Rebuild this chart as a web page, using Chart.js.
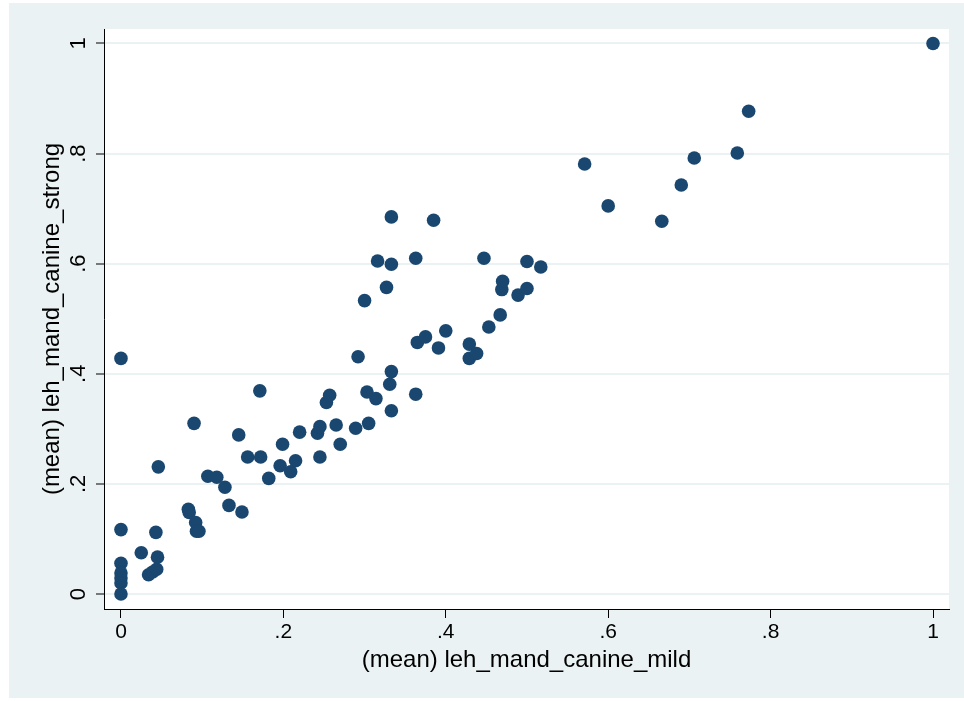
<!DOCTYPE html>
<html>
<head>
<meta charset="utf-8">
<script src="https://cdn.jsdelivr.net/npm/chart.js@4.4.1/dist/chart.umd.min.js"></script>
<style>
  html, body { margin: 0; padding: 0; background: #fff; }
  canvas { display: block; }
</style>
</head>
<body>
<canvas id="scatter" width="964" height="701"></canvas>
<script>
// values
const xMild = [
  0, 0, 0, 0, 0, 0, 0,
  0.025, 0.034, 0.039, 0.044, 0.045, 0.043, 0.046,
  0.083, 0.084, 0.090, 0.092, 0.093, 0.096,
  0.107, 0.118, 0.128, 0.133, 0.145, 0.149, 0.156,
  0.171, 0.172, 0.182, 0.196, 0.199,
  0.209, 0.215, 0.220, 0.242, 0.245, 0.245, 0.253, 0.257, 0.265, 0.270,
  0.289, 0.292, 0.300, 0.303, 0.305, 0.314, 0.316, 0.327, 0.331,
  0.333, 0.333, 0.333, 0.333,
  0.363, 0.363, 0.365, 0.375, 0.385, 0.391, 0.400,
  0.429, 0.429, 0.438, 0.447, 0.453, 0.467, 0.469, 0.470, 0.489,
  0.500, 0.500, 0.517,
  0.571, 0.600, 0.666, 0.690, 0.706, 0.759, 0.773, 1.0
];
const yStrong = [
  0.428, 0.117, 0.056, 0.038, 0.029, 0.020, 0.0,
  0.075, 0.035, 0.040, 0.045, 0.067, 0.112, 0.231,
  0.154, 0.148, 0.310, 0.130, 0.114, 0.114,
  0.214, 0.212, 0.194, 0.161, 0.289, 0.149, 0.249,
  0.369, 0.249, 0.210, 0.233, 0.272,
  0.222, 0.242, 0.294, 0.292, 0.304, 0.249, 0.348, 0.361, 0.307, 0.272,
  0.301, 0.431, 0.533, 0.367, 0.310, 0.355, 0.605, 0.557, 0.381,
  0.404, 0.333, 0.599, 0.685,
  0.610, 0.363, 0.457, 0.467, 0.679, 0.447, 0.478,
  0.454, 0.428, 0.437, 0.610, 0.485, 0.507, 0.553, 0.568, 0.543,
  0.555, 0.604, 0.594,
  0.781, 0.705, 0.677, 0.743, 0.792, 0.801, 0.877, 1.0
];
const tickValues = [0, 0.2, 0.4, 0.6, 0.8, 1];
const xTitle = '(mean) leh_mand_canine_mild';
const yTitle = '(mean) leh_mand_canine_strong';

const navy = '#1a476f';
const outerBg = '#eaf2f3';
const gridColor = '#eaf2f3';
const fontFamily = '"Liberation Sans", Arial, sans-serif';

// stata style: ".2" instead of "0.2"
const fmt = v => {
  const s = String(Math.round(v * 10) / 10);
  return s.startsWith('0.') ? s.slice(1) : s;
};

const points = xMild.map((x, i) => ({ x, y: yStrong[i] }));

// background: light outer box, white plot region
const backgrounds = {
  id: 'backgrounds',
  beforeDraw(chart) {
    const { ctx, chartArea } = chart;
    ctx.save();
    ctx.fillStyle = '#fff';
    ctx.fillRect(0, 0, chart.width, chart.height);
    ctx.fillStyle = outerBg;
    ctx.fillRect(9, 3, chart.width - 9, 695);
    ctx.fillStyle = '#fff';
    ctx.fillRect(chartArea.left, chartArea.top,
      chartArea.right - chartArea.left, chartArea.bottom - chartArea.top);
    ctx.restore();
  }
};

// y tick labels are rotated in the reference
const yTickLabels = {
  id: 'yTickLabels',
  afterDraw(chart) {
    const { ctx } = chart;
    const yScale = chart.scales.y;
    ctx.save();
    ctx.fillStyle = '#000';
    ctx.font = '22px ' + fontFamily;
    ctx.textAlign = 'center';
    ctx.textBaseline = 'middle';
    yScale.ticks.forEach(t => {
      const py = yScale.getPixelForValue(t.value);
      ctx.save();
      ctx.translate(79, py);
      ctx.rotate(-Math.PI / 2);
      ctx.fillText(fmt(t.value), 0, 0);
      ctx.restore();
    });
    ctx.restore();
  }
};

new Chart(document.getElementById('scatter'), {
  type: 'scatter',
  data: {
    datasets: [{
      data: points,
      backgroundColor: navy,
      borderWidth: 0,
      pointRadius: 6.8,
      pointHoverRadius: 6.8
    }]
  },
  options: {
    responsive: false,
    animation: false,
    devicePixelRatio: 1,
    layout: { padding: { top: 29, right: 15, left: 0, bottom: 0 } },
    plugins: {
      legend: { display: false },
      tooltip: { enabled: false }
    },
    scales: {
      x: {
        type: 'linear',
        min: -0.0209,
        max: 1.0197,
        afterBuildTicks: s => { s.ticks = tickValues.map(v => ({ value: v })); },
        afterFit: s => { s.height = 92; },
        border: { display: true, color: '#000', width: 1 },
        grid: {
          drawOnChartArea: false,
          drawTicks: true,
          tickLength: 9,
          tickColor: '#000',
          tickWidth: 1
        },
        ticks: {
          padding: 2,
          maxRotation: 0,
          color: '#000',
          font: { family: fontFamily, size: 21 },
          callback: v => fmt(v)
        },
        title: {
          display: true,
          text: xTitle,
          color: '#000',
          font: { family: fontFamily, size: 24 },
          padding: { top: 0, bottom: 26 }
        }
      },
      y: {
        type: 'linear',
        min: -0.0272,
        max: 1.0263,
        afterBuildTicks: s => { s.ticks = tickValues.map(v => ({ value: v })); },
        afterFit: s => { s.width = 104; },
        border: { display: true, color: '#000', width: 1 },
        grid: {
          color: gridColor,
          lineWidth: 2,
          drawTicks: true,
          tickLength: 8,
          tickColor: '#000',
          tickWidth: 1
        },
        ticks: { display: false },
        title: {
          display: true,
          text: yTitle,
          color: '#000',
          font: { family: fontFamily, size: 24 },
          padding: { top: 38, bottom: 0 }
        }
      }
    }
  },
  plugins: [backgrounds, yTickLabels]
});
</script>
</body>
</html>
